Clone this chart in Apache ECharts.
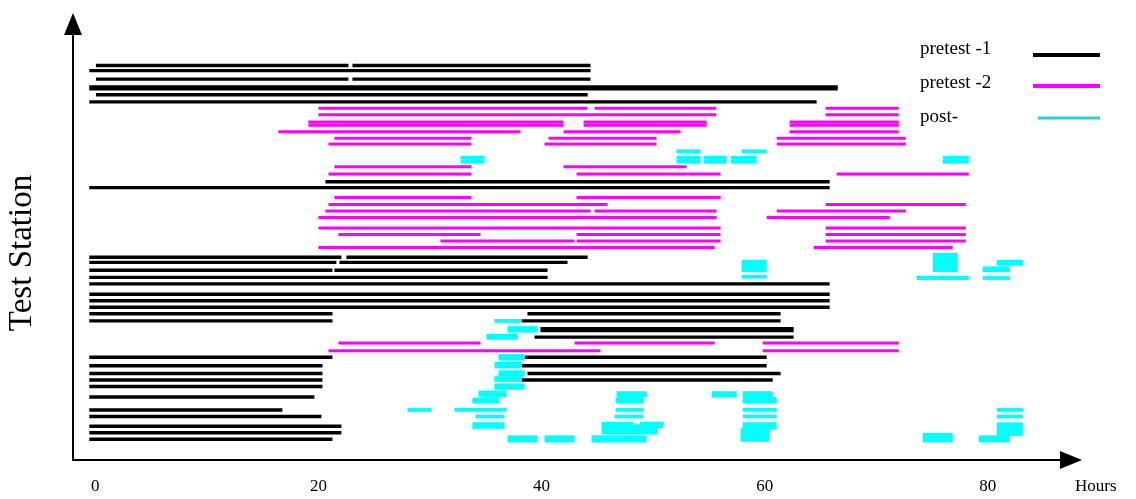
<!DOCTYPE html>
<html><head><meta charset="utf-8">
<script src="https://cdn.jsdelivr.net/npm/echarts@6/dist/echarts.min.js"></script>
<style>html,body{margin:0;padding:0;background:#fff}#c{width:1136px;height:499px}</style>
</head><body><div id="c"></div><script>
// x tick labels (hours)
const xTicks = [0, 20, 40, 60, 80];
const seriesNames = ['pretest -1', 'pretest -2', 'post-'];
// each entry: [station position, start hour, end hour]
const pretest1 = [
  [60.7, 0.06, 22.69], [60.7, 23.05, 44.39],
  [59.9, -0.54, 44.39],
  [58.6, 0.06, 22.69], [58.6, 23.05, 44.39],
  [57.4, -0.54, 66.55], [57.1, -0.54, 66.55],
  [56.2, 0.06, 44.13],
  [55.1, -0.54, 64.66],
  [42.8, 20.63, 65.83],
  [41.9, -0.54, 65.83],
  [31.2, -0.54, 22.06], [31.2, 22.51, 44.13],
  [30.4, -0.54, 21.61], [30.4, 21.88, 42.33],
  [29.2, -0.54, 21.26], [29.2, 21.43, 40.54],
  [28.1, -0.54, 40.54],
  [27.1, -0.54, 65.83],
  [25.5, -0.54, 65.83],
  [24.5, -0.54, 65.83],
  [23.5, -0.54, 65.83],
  [22.5, -0.54, 21.26], [22.5, 38.74, 61.43],
  [21.4, -0.54, 21.26], [21.4, 38.21, 61.43],
  [20.2, 39.91, 62.60], [19.9, 39.91, 62.60],
  [18.9, 39.37, 62.60],
  [15.8, -0.54, 21.26], [15.8, 38.48, 60.18],
  [14.5, -0.54, 20.36], [14.5, 38.21, 60.18],
  [13.3, -0.54, 20.36], [13.3, 38.74, 61.43],
  [12.3, -0.54, 20.36], [12.3, 38.21, 60.72],
  [11.3, -0.54, 20.36],
  [9.7, -0.54, 19.64],
  [7.7, -0.54, 16.77],
  [6.7, -0.54, 20.27],
  [5.2, -0.54, 22.06],
  [4.2, -0.54, 22.06],
  [3.2, -0.54, 21.26]
];
const pretest2 = [
  [54.1, 20.0, 44.13], [54.1, 44.75, 55.67], [54.1, 65.47, 72.02],
  [53.1, 20.0, 55.67], [53.1, 65.47, 72.02],
  [52.0, 19.10, 41.97], [52.0, 43.77, 54.8], [52.0, 62.24, 72.02],
  [51.5, 19.10, 41.97], [51.5, 43.77, 54.8], [51.5, 62.24, 72.02],
  [50.5, 16.41, 38.12], [50.5, 41.97, 52.47], [50.5, 62.24, 72.02],
  [49.5, 21.43, 33.72], [49.5, 40.63, 50.31], [49.5, 61.08, 72.65],
  [48.6, 20.90, 33.72], [48.6, 40.27, 50.31], [48.6, 61.08, 72.65],
  [45.1, 21.43, 33.72], [45.1, 41.97, 53.0],
  [44.0, 20.90, 33.72], [44.0, 43.14, 56.05], [44.0, 66.46, 78.30],
  [40.4, 21.43, 33.72], [40.4, 43.14, 56.05],
  [39.3, 20.90, 45.92], [39.3, 65.47, 78.03],
  [38.3, 20.63, 44.39], [38.3, 44.75, 55.69], [38.3, 61.08, 72.65],
  [37.3, 20.0, 55.69], [37.3, 60.18, 71.21],
  [35.7, 20.0, 56.05], [35.7, 65.47, 78.03],
  [34.7, 21.79, 34.53], [34.7, 43.14, 56.05], [34.7, 65.47, 78.03],
  [33.7, 30.94, 42.96], [33.7, 43.14, 56.05], [33.7, 65.47, 78.03],
  [32.7, 20.0, 55.52], [32.7, 64.39, 76.86],
  [18.0, 21.79, 34.53], [18.0, 42.96, 55.52], [18.0, 59.82, 72.02],
  [16.8, 20.90, 45.29], [16.8, 59.82, 72.02]
];
const post = [
  [47.5, 52.10, 54.26], [47.5, 57.94, 60.18],
  [46.5, 32.74, 34.89], [46.5, 52.10, 54.26], [46.5, 54.53, 56.59], [46.5, 56.95, 59.28], [46.5, 75.96, 78.30],
  [45.9, 32.74, 34.89], [45.9, 52.10, 54.26], [45.9, 54.53, 56.59], [45.9, 56.95, 59.28], [45.9, 75.96, 78.30],
  [30.5, 57.94, 60.18], [30.0, 57.94, 60.18], [29.5, 57.94, 60.18], [29.2, 57.94, 60.18],
  [28.2, 57.94, 60.18],
  [31.6, 75.07, 77.31], [31.1, 75.07, 77.31], [30.6, 75.07, 77.31], [30.1, 75.07, 77.31], [29.6, 75.07, 77.31], [29.2, 75.07, 77.31],
  [28.0, 73.63, 78.30],
  [30.5, 80.81, 83.14], [30.2, 80.81, 83.14],
  [29.5, 79.55, 81.97], [29.2, 79.55, 81.97],
  [28.0, 79.55, 81.97],
  [21.4, 35.78, 38.21],
  [20.3, 36.95, 39.64], [19.9, 36.95, 39.64],
  [19.1, 35.07, 37.85], [18.8, 35.07, 37.85],
  [16.0, 36.14, 38.48], [15.6, 36.14, 38.48],
  [14.8, 35.78, 38.21], [14.4, 35.78, 38.21],
  [13.5, 36.14, 38.48], [13.1, 36.14, 38.48],
  [12.6, 35.78, 38.21], [12.3, 35.78, 38.21],
  [11.5, 35.78, 38.48], [11.1, 35.78, 38.48],
  [10.4, 34.35, 36.86], [10.0, 34.35, 36.86],
  [9.3, 33.81, 36.23], [9.0, 33.81, 36.23],
  [7.7, 27.98, 30.13], [7.7, 32.20, 36.86],
  [6.7, 34.08, 36.68],
  [5.5, 33.81, 36.68], [5.1, 33.81, 36.68],
  [3.5, 36.95, 39.64], [3.0, 36.95, 39.64],
  [3.5, 40.27, 42.96], [3.0, 40.27, 42.96],
  [3.5, 44.48, 49.42], [3.0, 44.48, 49.42],
  [10.3, 46.73, 49.42], [9.9, 46.73, 49.42],
  [9.3, 46.64, 49.15], [9.0, 46.64, 49.15],
  [7.7, 46.64, 49.15], [6.7, 46.55, 49.15],
  [5.6, 45.38, 48.2], [5.6, 48.8, 50.94], [5.2, 45.38, 50.94],
  [4.7, 45.38, 50.40], [4.2, 45.38, 50.40],
  [10.3, 55.25, 57.49], [10.3, 58.03, 60.72], [9.9, 55.25, 57.49], [9.9, 58.03, 60.72],
  [9.4, 58.03, 61.08], [9.0, 58.03, 61.08],
  [7.7, 58.03, 61.08], [6.7, 58.03, 61.08],
  [5.5, 58.03, 61.08], [5.0, 58.03, 61.08],
  [4.6, 57.85, 60.45], [4.1, 57.85, 60.45], [3.6, 57.85, 60.45], [3.1, 57.85, 60.45],
  [3.9, 74.17, 76.86], [3.5, 74.17, 76.86], [3.0, 74.17, 76.86],
  [7.7, 80.81, 83.14], [6.7, 80.81, 83.14],
  [5.5, 80.81, 83.14], [5.0, 80.81, 83.14], [4.5, 80.81, 83.14], [4.0, 80.81, 83.14],
  [3.5, 79.19, 81.97], [3.0, 79.19, 81.97]
];

const colors = ['#000000', '#ff00ff', '#00ffff'];
const thick = [3.4, 3.0, 3.8];
function segRenderer(color, h) {
  return function (params, api) {
    const y = api.value(0);
    const a = api.coord([api.value(1), y]);
    const b = api.coord([api.value(2), y]);
    return { type: 'rect', shape: { x: a[0], y: a[1] - h / 2, width: b[0] - a[0], height: h }, style: { fill: color } };
  };
}
const serif = '"Liberation Serif", "DejaVu Serif", serif';
const chart = echarts.init(document.getElementById('c'), null, { renderer: 'canvas' });
const data = [pretest1, pretest2, post];
const legendY = [52, 86, 120];
const legendGraphics = [];
seriesNames.forEach((n, i) => {
  legendGraphics.push({ type: 'text', left: 920, top: legendY[i] - 12, style: { text: n, font: '19px ' + serif, fill: '#000' } });
  const ly = legendY[i] + (i === 0 ? 3 : 0) - (i === 2 ? 2 : 0);
  legendGraphics.push({ type: 'line', shape: { x1: i === 2 ? 1038 : 1033, y1: ly, x2: 1100, y2: ly }, style: { stroke: i === 2 ? '#33cccc' : colors[i], lineWidth: i === 2 ? 3 : 4 } });
});
const axisLineStyle = { onZero: false, symbol: ['none', 'triangle'], symbolSize: [18, 22], symbolOffset: [0, -6], lineStyle: { color: '#000', width: 2 } };
chart.setOption({
  animation: false,
  backgroundColor: '#fff',
  grid: { left: 73, right: 59, top: 18, bottom: 39 },
  xAxis: {
    type: 'value', min: -2, max: 88,
    splitLine: { show: false }, axisTick: { show: false },
    axisLine: axisLineStyle,
    axisLabel: { customValues: xTicks, margin: 18, color: '#000', fontSize: 17, fontFamily: serif }
  },
  yAxis: {
    type: 'value', min: 0, max: 68,
    splitLine: { show: false }, axisTick: { show: false }, axisLabel: { show: false },
    axisLine: axisLineStyle
  },
  graphic: legendGraphics.concat([
    { type: 'text', left: 1075, top: 478, style: { text: 'Hours', font: '17px ' + serif, fill: '#000' } },
    { type: 'text', x: 22, y: 253, rotation: Math.PI / 2, style: { text: 'Test Station', font: '33px ' + serif, fill: '#000', align: 'center', verticalAlign: 'middle' } }
  ]),
  series: data.map((d, i) => ({
    type: 'custom', name: seriesNames[i],
    renderItem: segRenderer(colors[i], thick[i]),
    encode: { x: [1, 2], y: 0 },
    data: d
  }))
});
</script></body></html>
